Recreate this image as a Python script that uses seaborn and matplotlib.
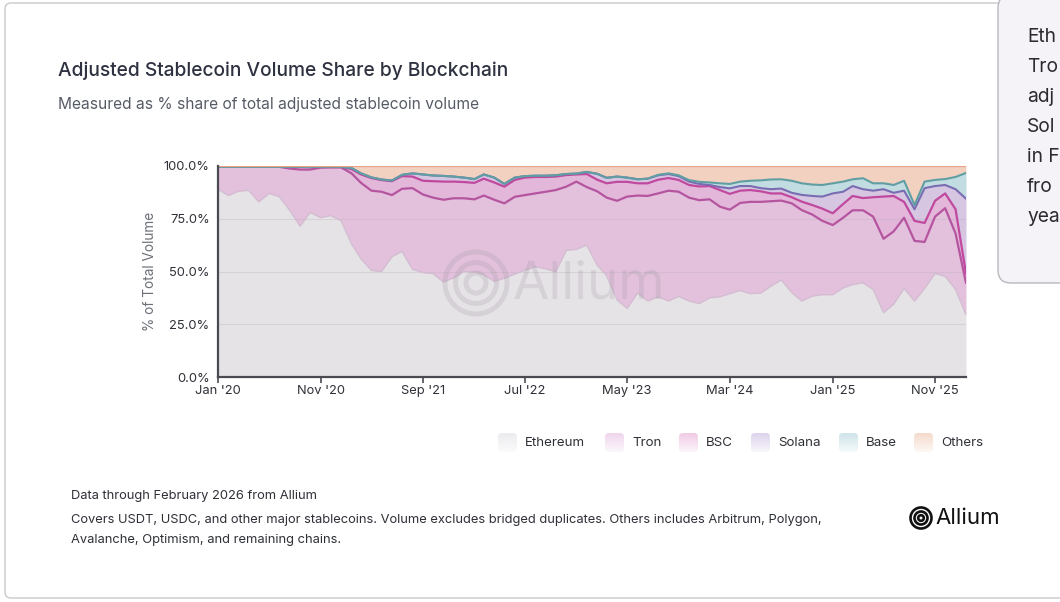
import numpy as np
import pandas as pd
import matplotlib
matplotlib.use("Agg")
import matplotlib.pyplot as plt
import seaborn as sns
from matplotlib.patches import FancyBboxPatch, Circle

# ---------------- data (cumulative upper edge of each stacked band, % of total) ----------------
months = pd.date_range("2020-01-01", periods=74, freq="MS")
chains = ["Ethereum", "Tron", "BSC", "Solana", "Base", "Others"]

eth_top = [89, 86, 88, 88.5, 83, 87, 85.5, 79, 71.5, 78,
           75.5, 76.5, 74, 63, 56, 50.5, 50, 57, 59.5, 51,
           49.5, 49, 45, 47, 50, 49.8, 48.5, 45.3, 46.8, 48.8,
           50.6, 52.3, 51.2, 50, 60, 60.5, 62.5, 53, 48, 36.5,
           32.5, 39.8, 36, 38, 36, 38.2, 36, 34.8, 37.5, 38,
           39.5, 41, 39.5, 39.8, 43, 46, 40, 36, 38.3, 39,
           39, 42.2, 43.8, 44.6, 41.5, 30.5, 34.5, 42, 36, 42,
           49, 47.7, 41.5, 29.5]
tron_top = [99.6, 99.6, 99.6, 99.6, 99.6, 99.6, 99.6, 98.8, 98.3, 98.3,
            99.2, 99.3, 99.3, 96.5, 92, 88.3, 87.8, 86.2, 89.2, 89.5,
            86.5, 85, 84, 84.7, 84.7, 84.2, 86, 84, 82.3, 85.4,
            86.2, 87, 87.8, 88.6, 90.2, 92.6, 90, 88, 85, 83.5,
            85.5, 86, 85.8, 87, 88.3, 87.8, 85, 83.8, 84.2, 80.7,
            79.3, 82.5, 83, 83, 83.3, 83.6, 82.3, 79.1, 77, 74,
            72, 75.5, 79, 79, 76, 65.5, 69, 75.5, 64.5, 64,
            76, 80, 68, 44.5]
bsc_top = [99.6, 99.6, 99.6, 99.6, 99.6, 99.6, 99.6, 99.6, 99.6, 99.5,
           99.6, 99.7, 99.6, 98.5, 96, 94.3, 93.3, 92.8, 95.2, 95,
           93, 92.8, 92.6, 92.6, 92.4, 92, 94, 92.2, 90.2, 93.4,
           94.5, 94.8, 94.8, 95, 95.7, 96, 96.2, 93.5, 91.8, 92.5,
           92.5, 91.8, 91.8, 93.5, 94.3, 93.4, 91, 90.3, 90.5, 88.6,
           86.8, 88.3, 88.6, 88, 87, 87, 85.2, 83.1, 81.5, 79.8,
           77.6, 82, 85.8, 84.8, 85.2, 85.5, 85.8, 83, 74, 73,
           83.5, 87, 79.5, 49]
sol_top = [99.6, 99.6, 99.6, 99.6, 99.6, 99.6, 99.6, 99.6, 99.6, 99.5,
           99.6, 99.7, 99.6, 99, 96.5, 94.6, 93.6, 93.1, 95.8, 96.5,
           96, 95.5, 95.3, 95, 94.5, 93.8, 96, 94.5, 91.5, 94.5,
           95.2, 95.4, 95.4, 95.6, 96.2, 96.4, 97.2, 96.3, 94.4, 95,
           94.5, 93.7, 94, 95.6, 96.2, 95.2, 92.6, 91.5, 91, 90,
           89.4, 90.5, 90.5, 89.5, 89, 89.3, 87.3, 86.3, 85.8, 85.5,
           87, 87.8, 90.5, 89, 88.3, 89, 87.3, 88.3, 79.5, 89.5,
           90.5, 91, 89, 84.5]
base_top = [99.6, 99.6, 99.6, 99.6, 99.6, 99.6, 99.6, 99.6, 99.6, 99.5,
            99.6, 99.7, 99.6, 99, 96.5, 94.6, 93.6, 93.1, 95.8, 96.5,
            96, 95.5, 95.3, 95, 94.5, 93.8, 96, 94.5, 91.5, 94.5,
            95.2, 95.4, 95.4, 95.6, 96.2, 96.4, 97.2, 96.3, 94.4, 95,
            94.5, 93.7, 94, 95.8, 96.5, 95.6, 93.3, 92.5, 92.2, 91.8,
            91.5, 92.6, 93, 93.2, 93.6, 93.7, 93, 91.8, 91.2, 91,
            91.8, 92.6, 93.7, 94.2, 91.8, 91.8, 91, 93, 81.5, 92.6,
            93.4, 93.8, 94.8, 96.7]
others_top = [100] * 74

tick_idx = [0, 10, 20, 30, 40, 50, 60, 70]
tick_labels = ["Jan '20", "Nov '20", "Sep '21", "Jul '22", "May '23", "Mar '24", "Jan '25", "Nov '25"]
y_ticks = [0, 25, 50, 75, 100]
y_labels = ["0.0%", "25.0%", "50.0%", "75.0%", "100.0%"]

# ---------------- styling ----------------
fill_colors = ["#e6e3e7", "#e3c1dd", "#e3b7d9", "#d6c6e2", "#c2dde2", "#f2d1c0"]
line_colors = ["#d3bdd1", "#b5549f", "#c0489e", "#7a6cb2", "#5f9ea2", "#eba185"]
legend_colors = ["#ecebee", "#efd6ec", "#f1cbe5", "#ddd3ec", "#cfe4e9", "#f5dbcc"]

sns.set_theme(style="white")
plt.rcParams["font.family"] = ["Inter", "DejaVu Sans"]

W, H = 1060, 602
fig = plt.figure(figsize=(W / 100, H / 100), dpi=100)
fig.patch.set_facecolor("white")

L, R, T_, B_ = 218, 966, 166, 377
ax = fig.add_axes([L / W, 1 - B_ / H, (R - L) / W, (B_ - T_) / H])
ax.set_facecolor("white")

tops = np.vstack([np.zeros(74), eth_top, tron_top, bsc_top, sol_top, base_top, others_top])
shares = np.diff(tops, axis=0)
ax.stackplot(months, shares, colors=fill_colors, labels=chains, linewidth=0, zorder=1)

# gridlines over fills
for yv in [25, 50, 75]:
    ax.axhline(yv, color="#b9b0ba", lw=0.8, alpha=0.35, zorder=2)

line_w = [1.0, 1.6, 1.6, 1.5, 1.5, 1.6]
for k, top in enumerate([eth_top, tron_top, bsc_top, sol_top, base_top, others_top]):
    sns.lineplot(x=months, y=top, ax=ax, color=line_colors[k], lw=line_w[k],
                 legend=False, zorder=3 + k * 0.1)

ax.set_xlim(months[0], months[-1])
ax.set_ylim(0, 100)
ax.set_yticks(y_ticks)
ax.set_yticklabels(y_labels, fontsize=9.3, color="#2f3138")
ax.set_xticks([months[i] for i in tick_idx])
ax.set_xticklabels(tick_labels, fontsize=9.3, color="#2f3138")
ax.tick_params(axis="y", length=0, pad=6)
ax.tick_params(axis="x", length=4, width=1.2, color="#4a4a52", pad=1.5, bottom=True)
ax.set_ylabel("% of Total Volume", fontsize=9.8, color="#6d6f78", labelpad=5)
ax.set_xlabel("")
for s in ["top", "right"]:
    ax.spines[s].set_visible(False)
for s in ["left", "bottom"]:
    ax.spines[s].set_color("#4a4a52")
    ax.spines[s].set_linewidth(1.6)
    ax.spines[s].set_zorder(5)

# ---------------- overlay for page decoration (pixel coordinates) ----------------
ov = fig.add_axes([0, 0, 1, 1], zorder=10)
ov.set_xlim(0, W)
ov.set_ylim(H, 0)
ov.axis("off")
ov.patch.set_alpha(0)

# outer card
ov.add_patch(FancyBboxPatch((5, 3), 1100, 595, boxstyle="round,pad=0,rounding_size=6",
                            fc="none", ec="#c9c9cc", lw=1.0, zorder=0))
# callout box
ov.add_patch(FancyBboxPatch((998, -5), 120, 288, boxstyle="round,pad=0,rounding_size=13",
                            fc="#f6f3f8", ec="#b9b8bd", lw=1.0, zorder=1))
for j, t in enumerate(["Eth", "Tro", "adj", "Sol", "in F", "fro", "yea"]):
    ov.text(1027, 37 + 30 * j, t, fontsize=13.8, color="#2a2a30", va="center", ha="left", zorder=2)

# title / subtitle
ov.text(58, 71, "Adjusted Stablecoin Volume Share by Blockchain", fontsize=13.8, fontweight="medium",
        color="#2d3140", va="center", ha="left")
ov.text(58, 104, "Measured as % share of total adjusted stablecoin volume", fontsize=11.2,
        color="#565b66", va="center", ha="left")

# watermark logo
wm = "#9a949c"
for r in [31, 20.5, 10]:
    ov.add_patch(Circle((476, 283), r, fc="none", ec=wm, lw=3.6, alpha=0.22, zorder=3))
ov.text(513, 285, "Allium", fontsize=38, color=wm, alpha=0.22, va="center", ha="left", zorder=3)

# legend
leg_x = [498, 605, 679, 751, 839, 914]
for k, name in enumerate(chains):
    x0 = leg_x[k]
    p = FancyBboxPatch((x0, 433), 19, 19, boxstyle="round,pad=0,rounding_size=4",
                       fc="none", ec="none", zorder=4)
    ov.add_patch(p)
    c = matplotlib.colors.to_rgb(legend_colors[k])
    grad = np.linspace(0, 1, 40)[:, None, None]
    img = (1 - grad * 0.8) * np.array(c)[None, None, :] + grad * 0.8 * np.ones(3)[None, None, :]
    im = ov.imshow(np.repeat(img, 2, axis=1), extent=(x0, x0 + 19, 452, 433), zorder=4,
                   interpolation="bilinear", aspect="auto")
    im.set_clip_path(p)
    ov.text(x0 + 27, 443, name, fontsize=9.6, color="#2f3138", va="center", ha="left", zorder=5)
ov.set_xlim(0, W)
ov.set_ylim(H, 0)

# footer
fs_foot = 9.3
ov.text(71, 496, "Data through February 2026 from Allium", fontsize=fs_foot, color="#2f3138",
        va="center", ha="left")
ov.text(71, 520, "Covers USDT, USDC, and other major stablecoins. Volume excludes bridged duplicates. "
        "Others includes Arbitrum, Polygon,", fontsize=fs_foot, color="#2f3138", va="center", ha="left")
ov.text(71, 540, "Avalanche, Optimism, and remaining chains.", fontsize=fs_foot, color="#2f3138",
        va="center", ha="left")

# footer logo
for r in [10.5, 6.5, 2.8]:
    ov.add_patch(Circle((921, 518), r, fc="none", ec="#111111", lw=1.9, zorder=3))
ov.text(935, 518, "Allium", fontsize=16, color="#111111", va="center", ha="left")

fig.savefig("out.png", dpi=100, facecolor="white")
